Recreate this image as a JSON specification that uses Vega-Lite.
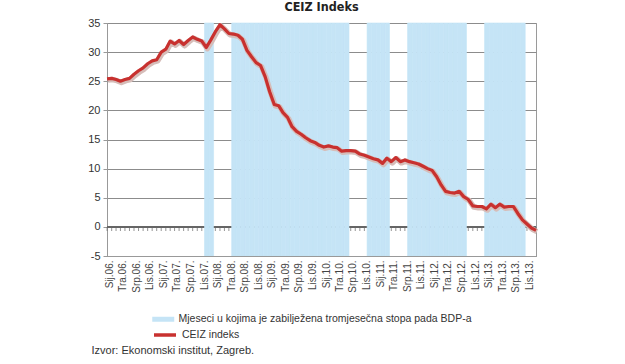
{
  "$schema": "https://vega.github.io/schema/vega-lite/v6.json",
  "width": 429,
  "height": 233,
  "autosize": {"type": "none"},
  "padding": {"left": 107, "top": 23, "right": 89, "bottom": 108},
  "background": "white",
  "title": {"text": "CEIZ Indeks", "fontSize": 12.5, "font": "Liberation Sans Narrow, DejaVu Sans Condensed, Liberation Sans, sans-serif", "fontWeight": "bold", "color": "#222", "offset": 4, "anchor": "middle"},
  "config": {
    "view": {"stroke": "#9a9a9a"},
    "font": "Liberation Sans, Arial, sans-serif",
    "axisY": {
      "title": null,
      "labelOverlap": false,
      "labelFontSize": 11,
      "labelColor": "#333333",
      "labelPadding": 3,
      "tickSize": 4,
      "tickColor": "#999999",
      "domainColor": "#999999",
      "grid": true,
      "gridColor": "#8c8c8c",
      "gridWidth": 1,
      "zindex": 0
    }
  },
  "datasets": {
    "ceiz": [
      {"d": "2005-12", "v": 25.4, "r": 0},
      {"d": "2006-01", "v": 25.5, "r": 0},
      {"d": "2006-02", "v": 25.3, "r": 0},
      {"d": "2006-03", "v": 25.0, "r": 0},
      {"d": "2006-04", "v": 25.3, "r": 0},
      {"d": "2006-05", "v": 25.5, "r": 0},
      {"d": "2006-06", "v": 26.2, "r": 0},
      {"d": "2006-07", "v": 26.8, "r": 0},
      {"d": "2006-08", "v": 27.3, "r": 0},
      {"d": "2006-09", "v": 28.0, "r": 0},
      {"d": "2006-10", "v": 28.5, "r": 0},
      {"d": "2006-11", "v": 28.7, "r": 0},
      {"d": "2006-12", "v": 30.0, "r": 0},
      {"d": "2007-01", "v": 30.5, "r": 0},
      {"d": "2007-02", "v": 31.9, "r": 0},
      {"d": "2007-03", "v": 31.4, "r": 0},
      {"d": "2007-04", "v": 32.0, "r": 0},
      {"d": "2007-05", "v": 31.3, "r": 0},
      {"d": "2007-06", "v": 32.0, "r": 0},
      {"d": "2007-07", "v": 32.6, "r": 0},
      {"d": "2007-08", "v": 32.2, "r": 0},
      {"d": "2007-09", "v": 31.9, "r": 0},
      {"d": "2007-10", "v": 30.8, "r": 1},
      {"d": "2007-11", "v": 32.1, "r": 1},
      {"d": "2007-12", "v": 33.5, "r": 0},
      {"d": "2008-01", "v": 34.7, "r": 0},
      {"d": "2008-02", "v": 34.0, "r": 0},
      {"d": "2008-03", "v": 33.2, "r": 0},
      {"d": "2008-04", "v": 33.1, "r": 1},
      {"d": "2008-05", "v": 32.9, "r": 1},
      {"d": "2008-06", "v": 32.2, "r": 1},
      {"d": "2008-07", "v": 30.3, "r": 1},
      {"d": "2008-08", "v": 29.2, "r": 1},
      {"d": "2008-09", "v": 28.2, "r": 1},
      {"d": "2008-10", "v": 27.7, "r": 1},
      {"d": "2008-11", "v": 25.8, "r": 1},
      {"d": "2008-12", "v": 23.2, "r": 1},
      {"d": "2009-01", "v": 21.0, "r": 1},
      {"d": "2009-02", "v": 20.8, "r": 1},
      {"d": "2009-03", "v": 19.6, "r": 1},
      {"d": "2009-04", "v": 18.8, "r": 1},
      {"d": "2009-05", "v": 17.2, "r": 1},
      {"d": "2009-06", "v": 16.4, "r": 1},
      {"d": "2009-07", "v": 15.9, "r": 1},
      {"d": "2009-08", "v": 15.3, "r": 1},
      {"d": "2009-09", "v": 14.8, "r": 1},
      {"d": "2009-10", "v": 14.5, "r": 1},
      {"d": "2009-11", "v": 14.0, "r": 1},
      {"d": "2009-12", "v": 13.7, "r": 1},
      {"d": "2010-01", "v": 13.9, "r": 1},
      {"d": "2010-02", "v": 13.7, "r": 1},
      {"d": "2010-03", "v": 13.6, "r": 1},
      {"d": "2010-04", "v": 13.0, "r": 1},
      {"d": "2010-05", "v": 13.1, "r": 1},
      {"d": "2010-06", "v": 13.1, "r": 0},
      {"d": "2010-07", "v": 13.0, "r": 0},
      {"d": "2010-08", "v": 12.5, "r": 0},
      {"d": "2010-09", "v": 12.3, "r": 0},
      {"d": "2010-10", "v": 12.0, "r": 1},
      {"d": "2010-11", "v": 11.7, "r": 1},
      {"d": "2010-12", "v": 11.5, "r": 1},
      {"d": "2011-01", "v": 10.9, "r": 1},
      {"d": "2011-02", "v": 11.8, "r": 1},
      {"d": "2011-03", "v": 11.2, "r": 0},
      {"d": "2011-04", "v": 11.9, "r": 0},
      {"d": "2011-05", "v": 11.2, "r": 0},
      {"d": "2011-06", "v": 11.5, "r": 0},
      {"d": "2011-07", "v": 11.2, "r": 1},
      {"d": "2011-08", "v": 11.0, "r": 1},
      {"d": "2011-09", "v": 10.8, "r": 1},
      {"d": "2011-10", "v": 10.4, "r": 1},
      {"d": "2011-11", "v": 10.0, "r": 1},
      {"d": "2011-12", "v": 9.7, "r": 1},
      {"d": "2012-01", "v": 8.6, "r": 1},
      {"d": "2012-02", "v": 7.2, "r": 1},
      {"d": "2012-03", "v": 6.1, "r": 1},
      {"d": "2012-04", "v": 5.9, "r": 1},
      {"d": "2012-05", "v": 5.8, "r": 1},
      {"d": "2012-06", "v": 6.1, "r": 1},
      {"d": "2012-07", "v": 5.2, "r": 1},
      {"d": "2012-08", "v": 4.7, "r": 0},
      {"d": "2012-09", "v": 3.6, "r": 0},
      {"d": "2012-10", "v": 3.5, "r": 0},
      {"d": "2012-11", "v": 3.5, "r": 0},
      {"d": "2012-12", "v": 3.1, "r": 1},
      {"d": "2013-01", "v": 3.9, "r": 1},
      {"d": "2013-02", "v": 3.3, "r": 1},
      {"d": "2013-03", "v": 3.9, "r": 1},
      {"d": "2013-04", "v": 3.4, "r": 1},
      {"d": "2013-05", "v": 3.5, "r": 1},
      {"d": "2013-06", "v": 3.5, "r": 1},
      {"d": "2013-07", "v": 2.3, "r": 1},
      {"d": "2013-08", "v": 1.2, "r": 1},
      {"d": "2013-09", "v": 0.5, "r": 0},
      {"d": "2013-10", "v": -0.2, "r": 0},
      {"d": "2013-11", "v": -0.6, "r": 0}
    ]
  },
  "data": {"name": "ceiz"},
  "layer": [
    {
      "mark": {"type": "rule", "color": "#666666", "strokeWidth": 1},
      "encoding": {
        "y": {
          "datum": 0,
          "type": "quantitative",
          "scale": {"domain": [-5, 35], "nice": false, "zero": false},
          "axis": {"values": [-5, 0, 5, 10, 15, 20, 25, 30, 35], "labelExpr": "'' + datum.value", "labelOverlap": false, "title": null}
        }
      }
    },
    {
      "mark": {"type": "tick", "orient": "vertical", "size": 4, "thickness": 1, "color": "#666666", "yOffset": 2},
      "encoding": {
        "x": {
          "field": "d",
          "type": "temporal",
          "timeUnit": "utcyearmonth",
          "bandPosition": 0.5,
          "scale": {"type": "utc", "domain": [{"year": 2005, "month": 12, "date": 16, "utc": true}, {"year": 2013, "month": 11, "date": 16, "utc": true}]},
          "axis": {
            "title": "Izvor: Ekonomski institut, Zagreb.",
            "titleX": -16,
            "titleY": 94,
            "titleAnchor": "start",
            "titleAlign": "left",
            "titleBaseline": "middle",
            "titleFontSize": 11,
            "titleFontWeight": "normal",
            "titleColor": "#333333",
            "tickCount": {"interval": "month", "step": 3},
            "labelExpr": "['Sij','Velj','Ožu','Tra','Svi','Lip','Srp','Kol','Ruj','Lis','Stu','Pro'][utcmonth(datum.value)] + '.' + utcFormat(datum.value, '%y') + '.'",
            "labelAngle": -90,
            "labelFontSize": 10,
            "labelColor": "#444444",
            "labelOverlap": false,
            "labelFlush": false,
            "labelPadding": 4,
            "ticks": false,
            "grid": false,
            "domainColor": "#999999",
            "zindex": 1
          }
        },
        "y": {"datum": 0, "type": "quantitative", "axis": {"values": [-5, 0, 5, 10, 15, 20, 25, 30, 35], "labelExpr": "'' + datum.value", "labelOverlap": false, "title": null}}
      }
    },
    {
      "transform": [{"filter": "datum.r == 1"}],
      "mark": {"type": "rect", "timeUnitBandSize": 1, "timeUnitBandPosition": 0, "stroke": "#c5e4f6", "strokeWidth": 0.6},
      "encoding": {
        "x": {"field": "d", "type": "temporal", "timeUnit": "utcyearmonth"},
        "y": {"datum": 35, "type": "quantitative", "axis": {"values": [-5, 0, 5, 10, 15, 20, 25, 30, 35], "labelExpr": "'' + datum.value", "labelOverlap": false, "title": null}},
        "y2": {"datum": -5},
        "fill": {
          "datum": "Mjeseci u kojima je zabilježena tromjesečna stopa pada BDP-a",
          "type": "nominal",
          "scale": {"range": ["#c5e4f6"]},
          "legend": {
            "orient": "none",
            "legendX": 51,
            "legendY": 291,
            "padding": 0,
            "title": null,
            "labelFontSize": 10.5,
            "labelColor": "#333333",
            "labelLimit": 400,
            "symbolType": "M-2.2,-0.5H2.2V0.5H-2.2Z",
            "symbolSize": 100,
            "symbolStrokeWidth": 0,
            "labelOffset": 10,
            "encode": {
              "symbols": {
                "update": {
                  "fill": {"value": "#c5e4f6"},
                  "stroke": {"value": "transparent"},
                  "opacity": {"value": 1}
                }
              }
            }
          }
        }
      }
    },
    {
      "mark": {"type": "line", "color": "#d6bdb9", "strokeWidth": 5.5, "xOffset": 1, "yOffset": 1.2, "strokeJoin": "round"},
      "encoding": {
        "x": {"field": "d", "type": "temporal", "timeUnit": "utcyearmonth", "bandPosition": 0.5},
        "y": {"field": "v", "type": "quantitative", "axis": {"values": [-5, 0, 5, 10, 15, 20, 25, 30, 35], "labelExpr": "'' + datum.value", "labelOverlap": false, "title": null}}
      }
    },
    {
      "mark": {"type": "line", "strokeWidth": 3.2, "strokeJoin": "round"},
      "encoding": {
        "x": {"field": "d", "type": "temporal", "timeUnit": "utcyearmonth", "bandPosition": 0.5},
        "y": {"field": "v", "type": "quantitative", "axis": {"values": [-5, 0, 5, 10, 15, 20, 25, 30, 35], "labelExpr": "'' + datum.value", "labelOverlap": false, "title": null}},
        "stroke": {
          "datum": "CEIZ indeks",
          "type": "nominal",
          "scale": {"range": ["#c8312f"]},
          "legend": {
            "orient": "none",
            "legendX": 51,
            "legendY": 305,
            "padding": 0,
            "title": null,
            "labelFontSize": 10.5,
            "labelColor": "#333333",
            "labelLimit": 400,
            "symbolType": "M-2.2,0H2.2",
            "symbolSize": 100,
            "symbolStrokeWidth": 3.5,
            "labelOffset": 10,
            "encode": {
              "symbols": {
                "update": {
                  "stroke": {"value": "#c8312f"},
                  "fill": {"value": "transparent"},
                  "strokeWidth": {"value": 3.5},
                  "opacity": {"value": 1}
                }
              }
            }
          }
        }
      }
    }
  ]
}
